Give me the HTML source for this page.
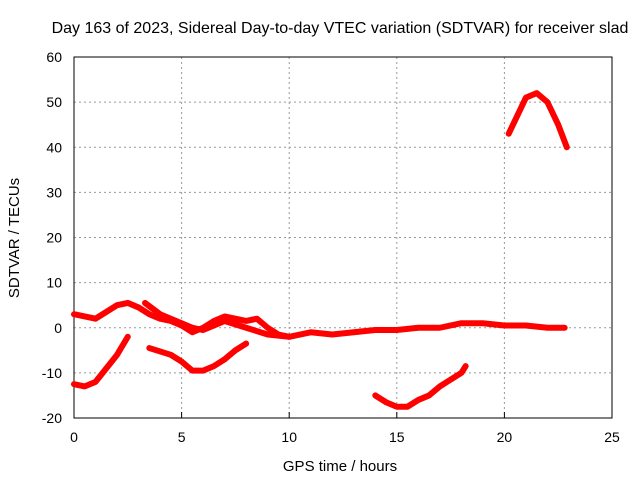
<!DOCTYPE html>
<html><head><meta charset="utf-8"><style>
body{margin:0;background:#fff;}
svg{display:block;font-family:"Liberation Sans",sans-serif;}
</style></head><body>
<svg id="chart" width="640" height="480">
<rect width="640" height="480" fill="#fff"/>
<text x="340" y="33" font-size="16" text-anchor="middle">Day 163 of 2023, Sidereal Day-to-day VTEC variation (SDTVAR) for receiver slad</text>
<g id="grid"></g><g id="axes"></g><g id="series"></g>
<text x="340" y="471" font-size="15" text-anchor="middle">GPS time / hours</text>
<text x="19" y="238" font-size="15" text-anchor="middle" transform="rotate(-90 19 238)">SDTVAR / TECUs</text>
</svg>
<script>
const xTicks=[0,5,10,15,20,25];
const yTicks=[-20,-10,0,10,20,30,40,50,60];
const trackUpper=[[0,3],[0.5,2.5],[1,2],[1.5,3.5],[2,5],[2.5,5.5],[3,4.5],[3.5,3],[4,2],[4.5,1.5],[5,0.5],[5.5,-1],[6,0],[6.5,1.5],[7,2.5],[7.5,2],[8,1.5],[8.5,2],[9,0],[9.5,-1.5],[10,-2],[10.5,-1.5],[11,-1],[12,-1.5],[13,-1],[14,-0.5],[15,-0.5],[16,0],[17,0],[18,1],[19,1],[20,0.5],[21,0.5],[22,0],[22.8,0]];
const trackSecond=[[3.3,5.5],[4,3],[5,1],[5.5,0],[6,-0.5],[7,1.5],[8,0],[9,-1.5],[10,-2]];
const trackEarly=[[0,-12.5],[0.5,-13],[1,-12],[1.5,-9],[2,-6],[2.5,-2]];
const trackMorning=[[3.5,-4.5],[4.5,-6],[5,-7.5],[5.5,-9.5],[6,-9.5],[6.5,-8.5],[7,-7],[7.5,-5],[8,-3.5]];
const trackAfternoon=[[14,-15],[14.5,-16.5],[15,-17.5],[15.5,-17.5],[16,-16],[16.5,-15],[17,-13],[17.5,-11.5],[18,-10],[18.2,-8.5]];
const trackEvening=[[20.2,43],[20.5,46],[21,51],[21.5,52],[22,50],[22.5,45],[22.9,40]];
const tracks=[trackUpper,trackSecond,trackEarly,trackMorning,trackAfternoon,trackEvening];
const X0=74,X1=612,Y0=418,Y1=57;
const sx=v=>X0+(v-0)/25*(X1-X0);
const sy=v=>Y0-(v+20)/80*(Y0-Y1);
const NS="http://www.w3.org/2000/svg";
function mk(tag,parent,attrs){const e=document.createElementNS(NS,tag);for(const k in attrs)e.setAttribute(k,attrs[k]);parent.appendChild(e);return e;}
const grid=document.getElementById('grid'),axes=document.getElementById('axes'),ser=document.getElementById('series');
xTicks.forEach(t=>{
  if(t>0&&t<25){const l=mk('line',grid,{x1:sx(t),x2:sx(t),y1:Y1,y2:Y0,stroke:'#999','stroke-dasharray':'2,3'});
  
  }
  const tk=mk('line',axes,{x1:sx(t),x2:sx(t),y1:Y0,y2:Y0-6,stroke:'#000'});
  
  
  const tx=mk('text',axes,{x:sx(t),y:Y0+24,'font-size':14,'text-anchor':'middle'});tx.textContent=t;
  
  
});
yTicks.forEach(t=>{
  if(t>-20&&t<60){const l=mk('line',grid,{x1:X0,x2:X1,y1:sy(t),y2:sy(t),stroke:'#999','stroke-dasharray':'2,3'});
  
  }
  const tx=mk('text',axes,{x:X0-12,y:sy(t)+5,'font-size':14,'text-anchor':'end'});tx.textContent=t;
  
  
});
const frame=mk('rect',axes,{x:X0,y:Y1,width:X1-X0,height:Y0-Y1,fill:'none',stroke:'#000'});


tracks.forEach(tr=>{
  const p=mk('polyline',ser,{points:tr.map(d=>sx(d[0])+','+sy(d[1])).join(' '),fill:'none',stroke:'#f00','stroke-width':6,'stroke-linejoin':'round','stroke-linecap':'round'});
  
  
});
</script>
</body></html>
